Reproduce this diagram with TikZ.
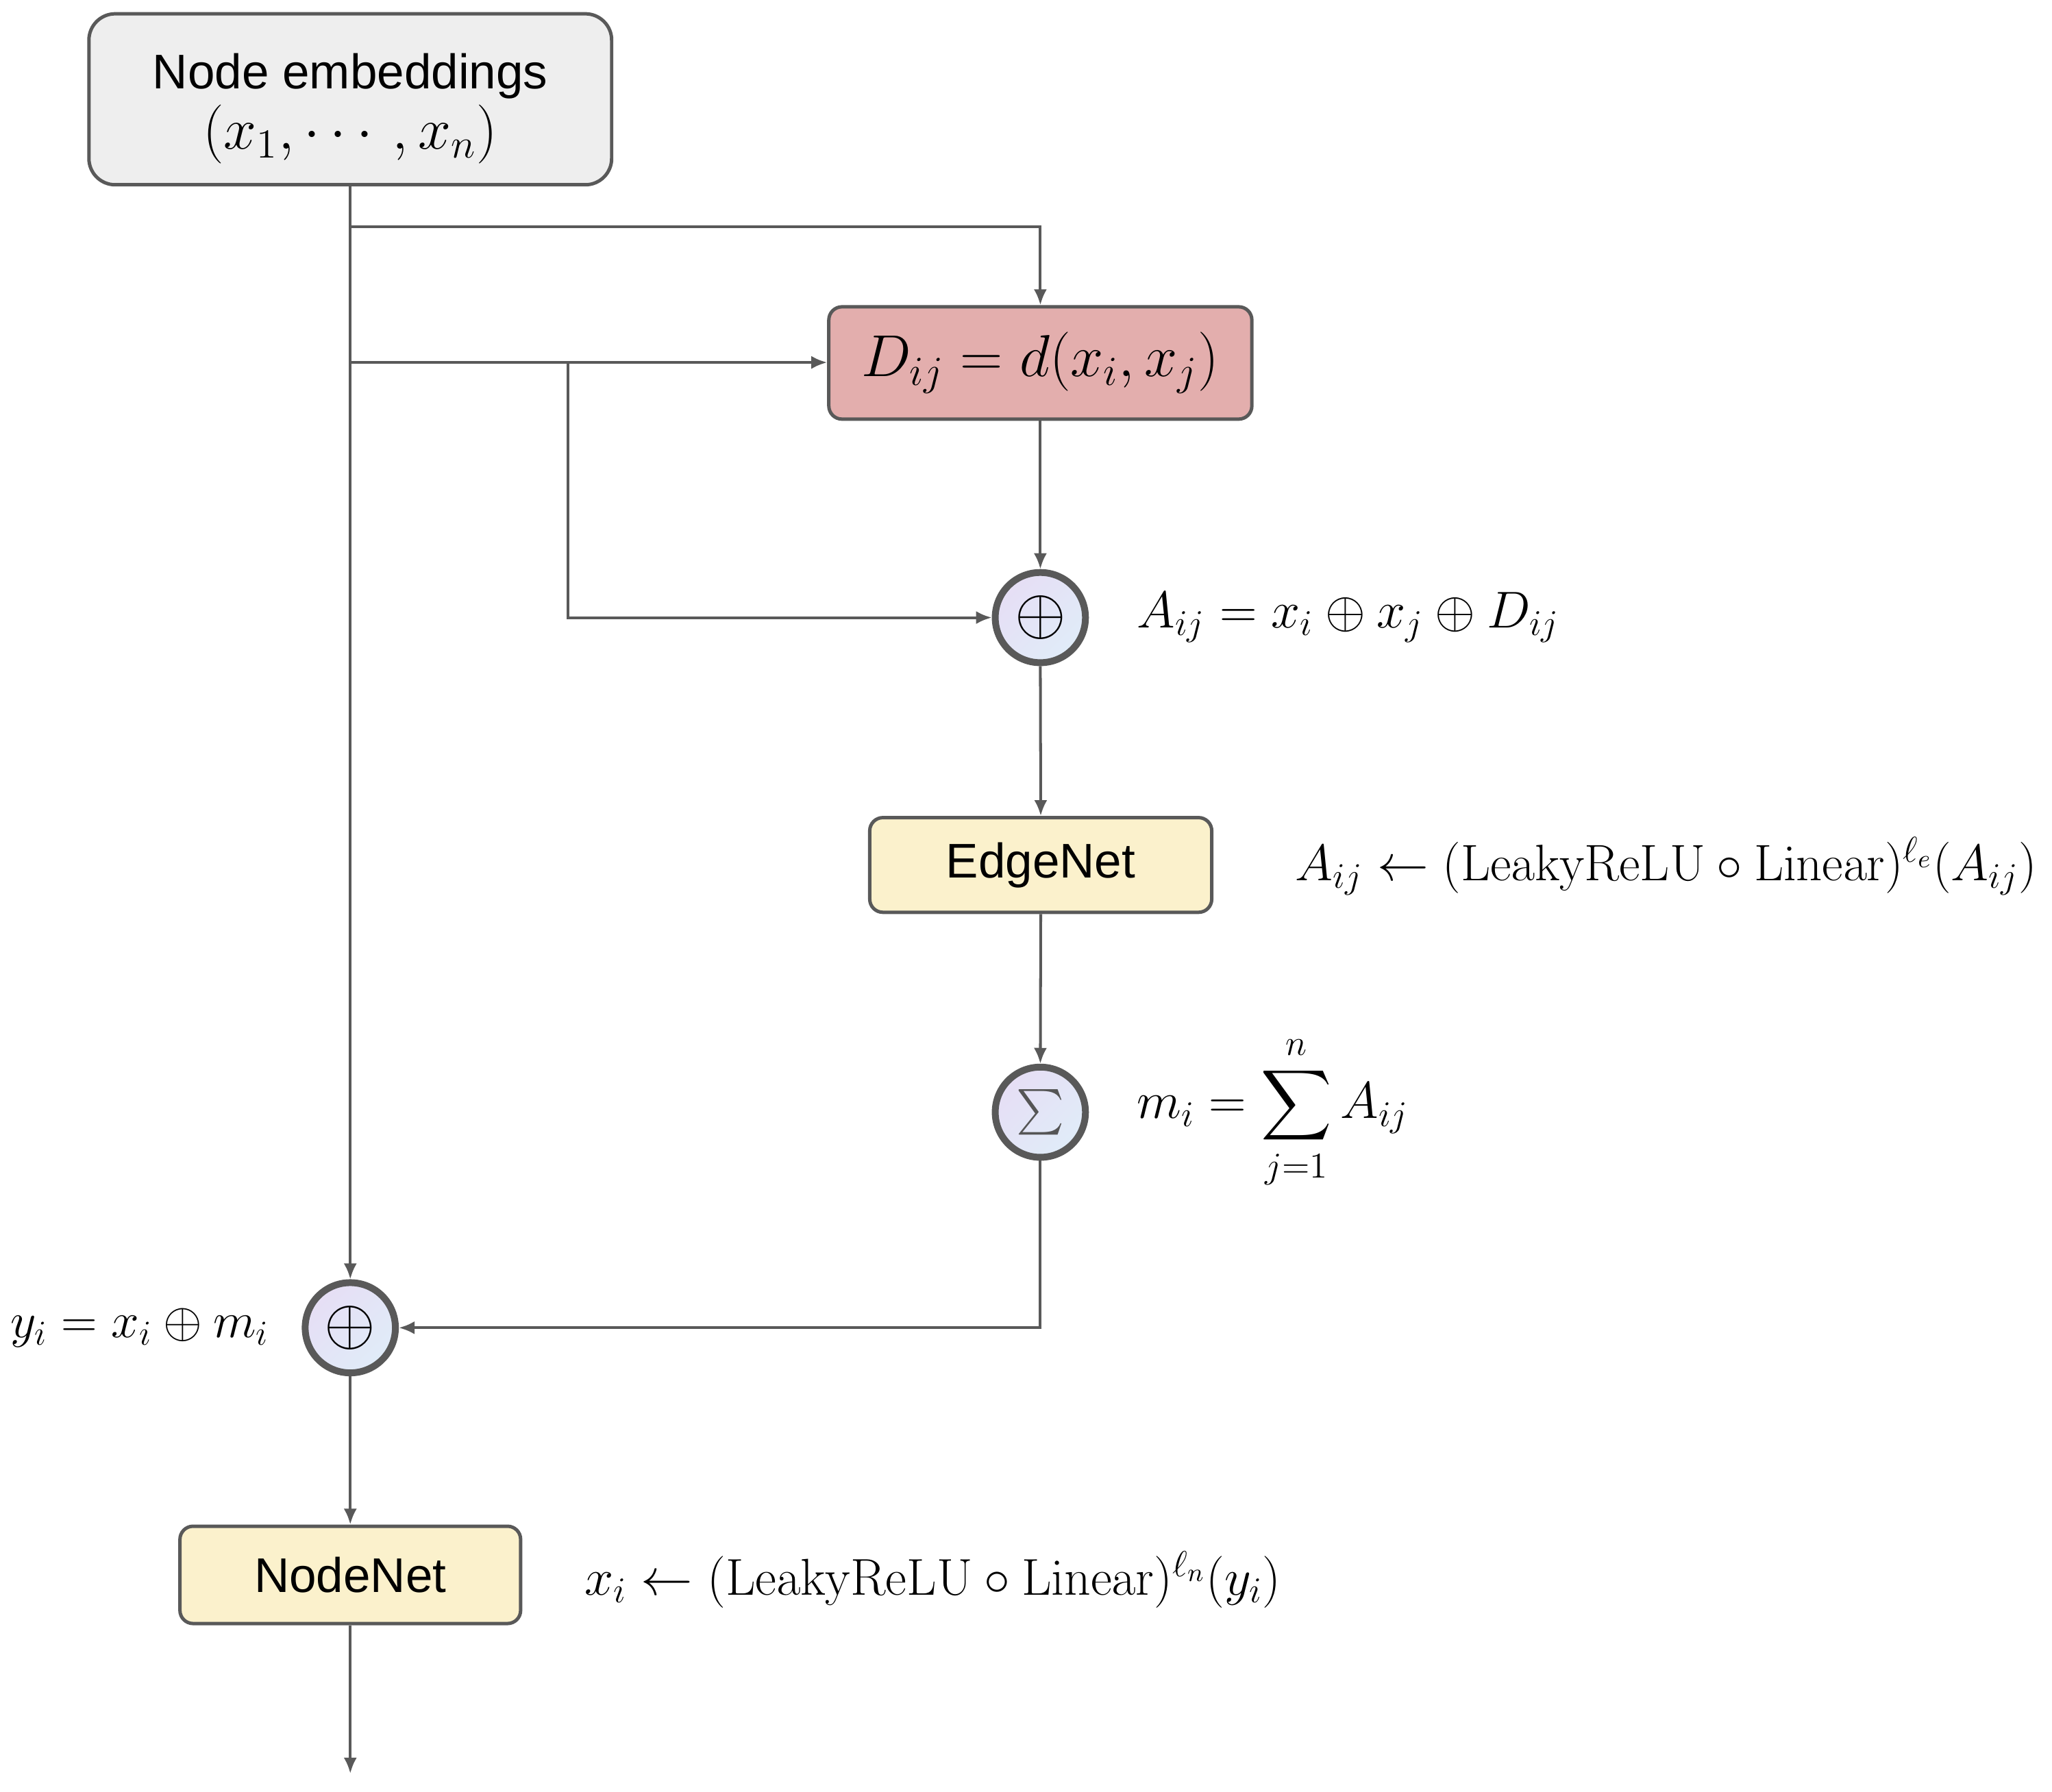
\RequirePackage{fix-cm}
\documentclass[tikz,border=0pt]{standalone}
\usepackage{amsmath}
\usepackage{graphicx}
\usepackage[no-math]{fontspec}
\newfontfamily\helv{Liberation Sans}
\usetikzlibrary{arrows.meta,shapes.geometric}
\definecolor{linegray}{HTML}{595959}
\definecolor{embfill}{HTML}{EEEEEE}
\definecolor{dfill}{HTML}{E3AEAD}
\definecolor{netfill}{HTML}{FBF1CC}
\definecolor{lav}{HTML}{E6DEF5}
\definecolor{lblue}{HTML}{E0ECF8}
\definecolor{sumgray}{HTML}{555555}
\newcommand{\smallbigsum}{\mathop{\vcenter{\hbox{\scalebox{0.9}{$\displaystyle\sum$}}}}\limits}
\begin{document}
\begin{tikzpicture}[x=0.5pt,y=-0.5pt,
  box/.style={draw=linegray,line width=1.3pt,rounded corners=5pt,inner sep=0pt,align=center},
  op/.style={circle,draw=linegray,line width=2.6pt,minimum size=34.3pt,inner sep=0pt,
    top color=lav,bottom color=lblue,shading angle=45},
  arr/.style={draw=linegray,line width=1.05pt,-{Latex[length=6pt,width=5pt]}},
  eq/.style={inner sep=0pt,font=\fontsize{19.7}{24}\selectfont},
  lbl/.style={font=\helv\fontsize{18.5}{24}\selectfont}
]
\useasboundingbox (0,0) rectangle (1560,1362.6);

\node[box,fill=embfill,rounded corners=10pt,minimum width=198.7pt,minimum height=65pt,lbl] (emb) at (266.3,75.5)
  {\rule{0pt}{20.5pt}Node embeddings\\[-1pt] \fontsize{22.4}{26}\selectfont$(x_1,\cdots,x_n)$};
\node[box,fill=dfill,minimum width=160.8pt,minimum height=42.7pt,font=\fontsize{22.5}{26}\selectfont] (D) at (790.9,276)
  {$D_{ij}=d(x_i,x_j)$};
\node[op,font=\fontsize{25}{28}\selectfont] (p1) at (790.9,469.6) {$\oplus$};
\node[box,fill=netfill,minimum width=130pt,minimum height=36pt,lbl] (edge) at (791.2,657.7) {EdgeNet};
\node[op,font=\fontsize{16.5}{22}\selectfont] (sum) at (790.9,845.7) {\color{sumgray}$\textstyle\sum$};
\node[op,font=\fontsize{25}{28}\selectfont] (p2) at (266.3,1009.6) {$\oplus$};
\node[box,fill=netfill,minimum width=129.5pt,minimum height=37pt,lbl] (nodenet) at (266.3,1197.5) {NodeNet};
\coordinate (out) at (266.3,1348.5);

\coordinate (j1) at (266.3,172.4);
\coordinate (j2) at (266.3,275.6);
\coordinate (j3) at (432,275.6);

\draw[arr] (emb.south) -- (p2.north);
\draw[arr] (j1) -| (D.north);
\draw[arr] (j2) -- (j2 -| D.west);
\draw[arr] (j3) |- (p1.west);
\draw[arr] (D.south) -- (p1.north);
\draw[arr] (p1.south) -- (edge.north);
\draw[arr] (edge.south) -- (sum.north);
\draw[arr] (sum.south) |- (p2.east);
\draw[arr] (p2.south) -- (nodenet.north);
\draw[arr] (nodenet.south) -- (out);

\node[eq,anchor=west] (eqA) at (864,469.6) {$A_{ij}=x_i\oplus x_j\oplus D_{ij}$};
\node[eq,anchor=west,font=\fontsize{19.5}{24}\selectfont] (eqE) at (984.5,658.7) {$A_{ij}\leftarrow(\mathrm{LeakyReLU}\circ\mathrm{Linear})^{\ell_e}(A_{ij})$};
\node[eq,anchor=west] (eqM) at (864,845.7) {$\displaystyle m_i=\smallbigsum_{j=1}^{n}A_{ij}$};
\node[eq,anchor=east,font=\fontsize{19}{24}\selectfont] (eqY) at (205,1009.6) {$y_i=x_i\oplus m_i$};
\node[eq,anchor=west] (eqN) at (444,1201) {$x_i\leftarrow(\mathrm{LeakyReLU}\circ\mathrm{Linear})^{\ell_n}(y_i)$};
\end{tikzpicture}
\end{document}
